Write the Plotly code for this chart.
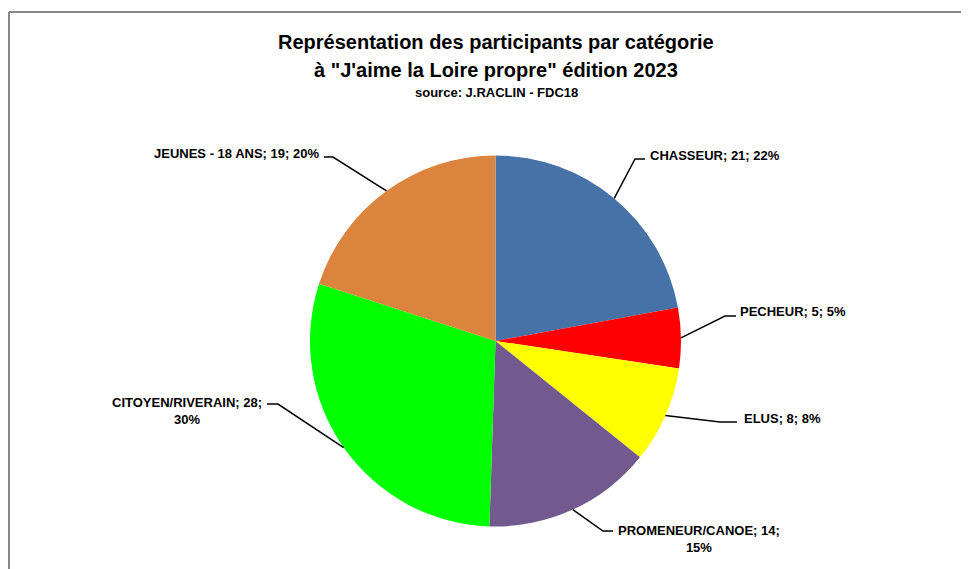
import math
import plotly.graph_objects as go

# ---- data ----
categories = ["CHASSEUR", "PECHEUR", "ELUS", "PROMENEUR/CANOE", "CITOYEN/RIVERAIN", "JEUNES - 18 ANS"]
values = [21, 5, 8, 14, 28, 19]
percent_labels = ["22%", "5%", "8%", "15%", "30%", "20%"]
colors = ["#4672A8", "#FF0000", "#FFFF00", "#725A8F", "#00FF00", "#DB843D"]

title_line1 = "Représentation des participants par catégorie"
title_line2 = "à \"J'aime la Loire propre\" édition 2023"
subtitle = "source: J.RACLIN - FDC18"

# ---- layout styling (pixels, in screen coordinates) ----
W, H = 969, 569
OFF = 8  # page body margin of the browser
CX, CY, R = 495.5, 341.0, 185.5
FONT = "Liberation Sans, Arial, sans-serif"

# label placement per slice: elbow point, line end, text anchor, xanchor, line break
label_style = [
    dict(elbow=(635, 159), end=(645, 159), text=(648, 155), xanchor="left", br=False),
    dict(elbow=(725, 316), end=(736, 316), text=(738, 311), xanchor="left", br=False),
    dict(elbow=(720, 422), end=(737, 422), text=(742, 418), xanchor="left", br=False),
    dict(elbow=(603, 531), end=(613, 531), text=(699, 539), xanchor="center", br=True),
    dict(elbow=(278, 404), end=(267, 404), text=(187, 411), xanchor="center", br=True),
    dict(elbow=(333, 157), end=(324, 157), text=(321, 153), xanchor="right", br=False),
]


def px(x, y):
    return (x - OFF) / W, 1 - (y - OFF) / H


cx0, cy0 = CX - OFF, CY - OFF

fig = go.Figure()
fig.add_trace(go.Pie(
    labels=categories,
    values=values,
    sort=False,
    direction="clockwise",
    rotation=0,
    marker=dict(colors=colors, line=dict(width=0)),
    textinfo="none",
    hoverinfo="label+value+percent",
    showlegend=False,
    domain=dict(x=[(cx0 - R) / W, (cx0 + R) / W], y=[1 - (cy0 + R) / H, 1 - (cy0 - R) / H]),
))

shapes = []
annotations = []

# border (left and top)
bx, by = px(9, 12)
shapes.append(dict(type="line", xref="paper", yref="paper",
                   x0=bx, y0=0, x1=bx, y1=by,
                   line=dict(color="#888888", width=2)))
shapes.append(dict(type="line", xref="paper", yref="paper",
                   x0=bx, y0=by, x1=1, y1=by,
                   line=dict(color="#888888", width=2)))

total = sum(values)
cum = 0
for i, (cat, v, pct) in enumerate(zip(categories, values, percent_labels)):
    mid = (cum + v / 2) / total
    cum += v
    th = 2 * math.pi * mid
    ex, ey = CX + R * math.sin(th), CY - R * math.cos(th)
    st = label_style[i]
    p0 = px(ex, ey)
    p1 = px(*st["elbow"])
    p2 = px(*st["end"])
    shapes.append(dict(type="path", xref="paper", yref="paper",
                       path=f"M {p0[0]},{p0[1]} L {p1[0]},{p1[1]} L {p2[0]},{p2[1]}",
                       line=dict(color="black", width=1.5)))
    sep = "<br>" if st["br"] else " "
    txt = f"<b>{cat}; {v};{sep}{pct}</b>"
    tx, ty = px(*st["text"])
    annotations.append(dict(x=tx, y=ty, xref="paper", yref="paper", text=txt,
                            showarrow=False, xanchor=st["xanchor"], yanchor="middle",
                            align="center", font=dict(family=FONT, size=13, color="black")))

# titles
for txt, y, size in [(title_line1, 42, 20), (title_line2, 70, 20), (subtitle, 92, 13)]:
    x, yy = px(496, y)
    annotations.append(dict(x=x, y=yy, xref="paper", yref="paper", text=f"<b>{txt}</b>",
                            showarrow=False, xanchor="center", yanchor="middle",
                            font=dict(family=FONT, size=size, color="black")))

fig.update_layout(
    width=W, height=H,
    margin=dict(l=0, r=0, t=0, b=0),
    paper_bgcolor="white",
    plot_bgcolor="white",
    shapes=shapes,
    annotations=annotations,
)

fig.write_html("out.html")
